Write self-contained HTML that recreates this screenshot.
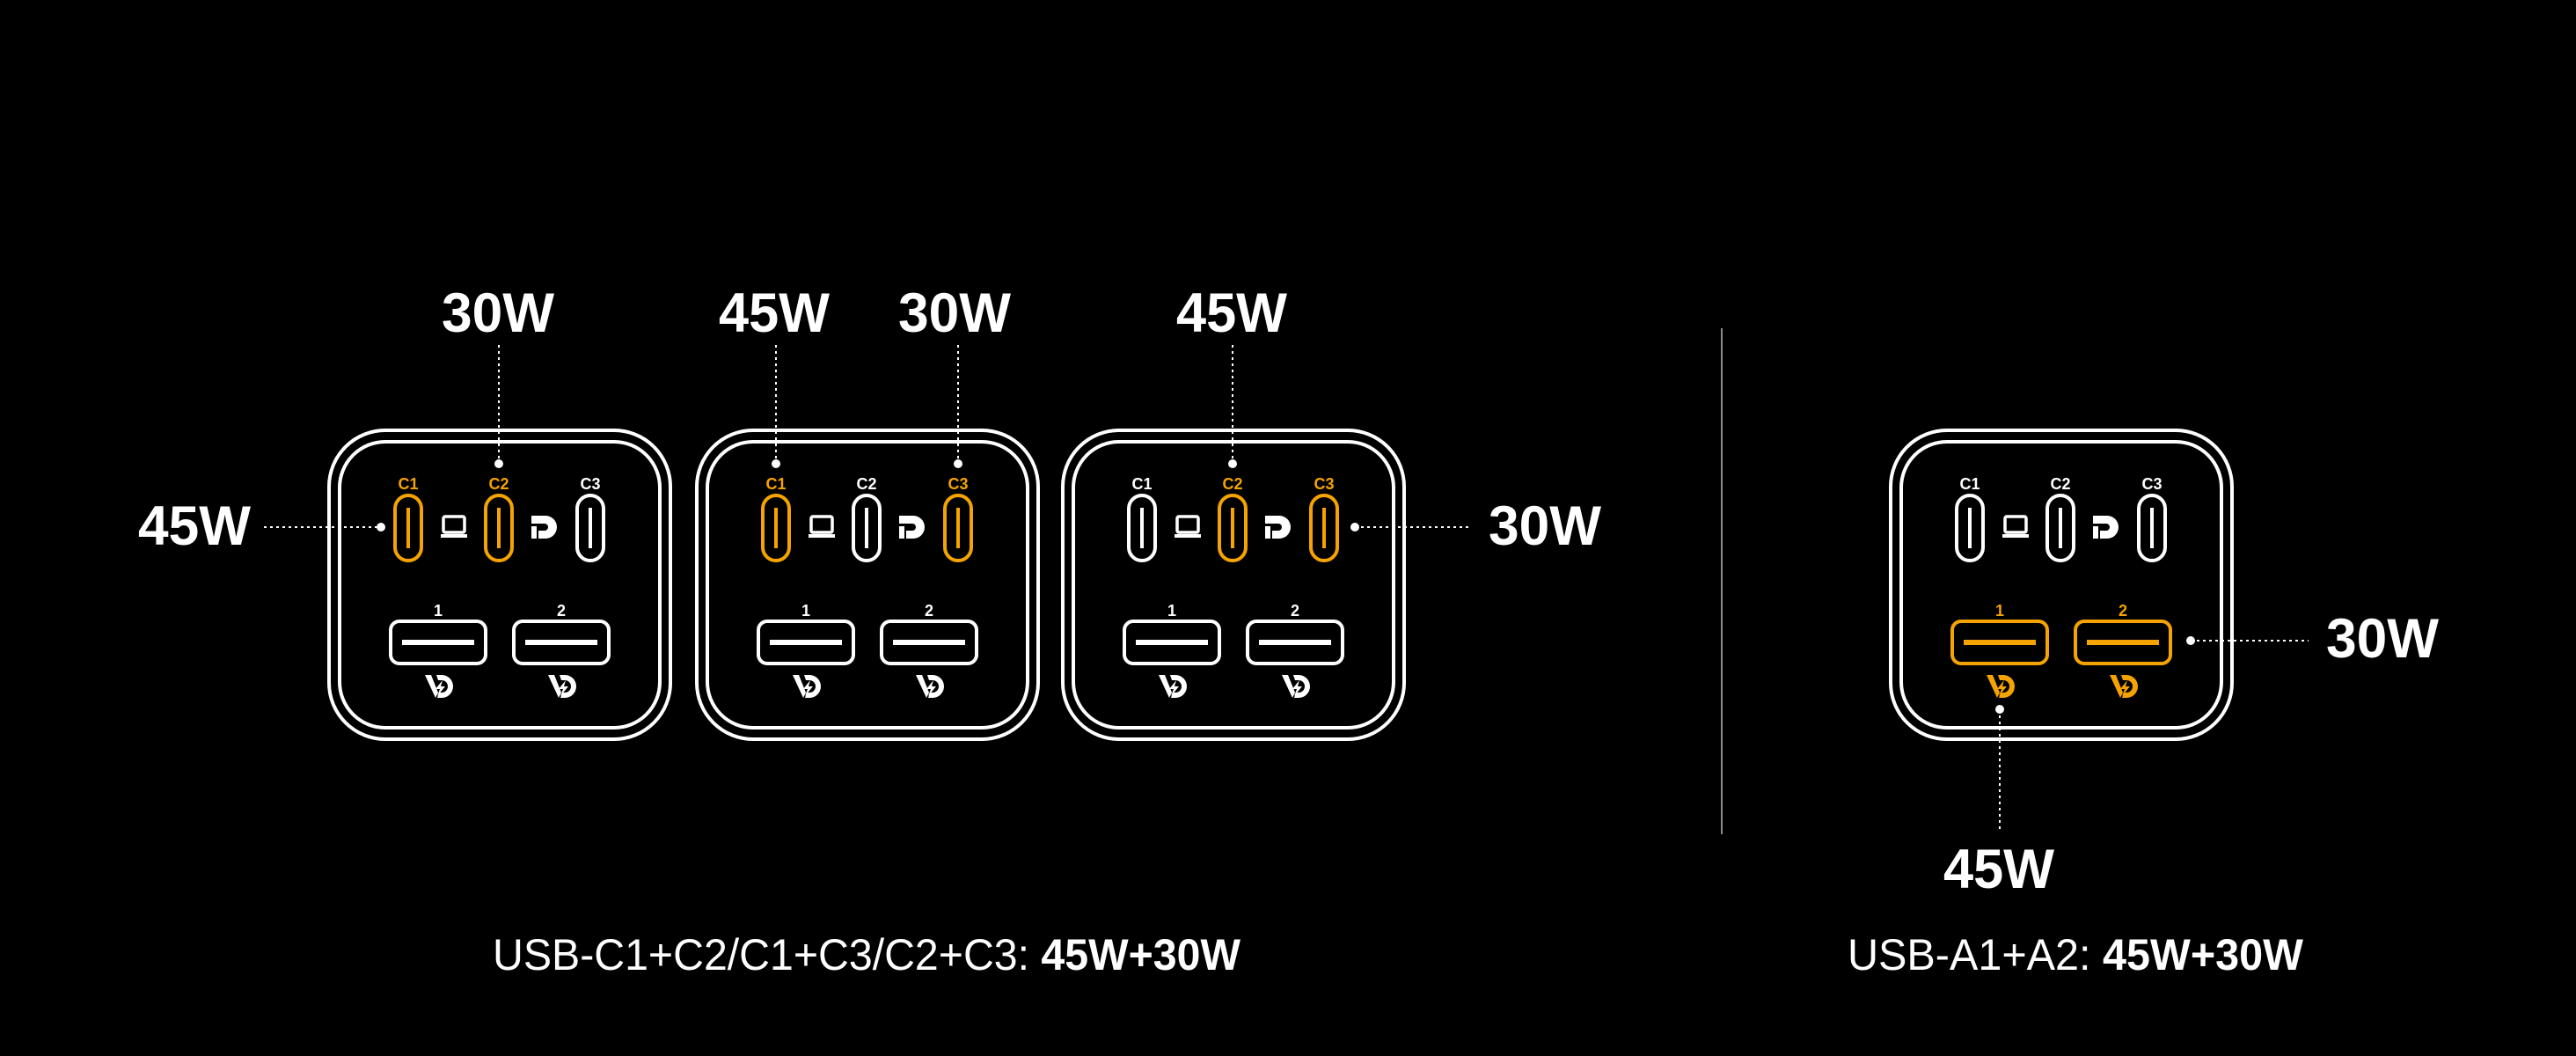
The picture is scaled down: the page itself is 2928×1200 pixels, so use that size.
<!DOCTYPE html>
<html><head><meta charset="utf-8"><style>
html,body{margin:0;padding:0;background:#000;width:2928px;height:1200px;overflow:hidden}
svg{display:block}
text{font-family:"Liberation Sans",sans-serif}
</style></head><body>
<svg width="2928" height="1200" viewBox="0 0 2928 1200" xmlns="http://www.w3.org/2000/svg">
<defs>
<g id="laptop" fill="none" stroke="#fff" stroke-width="3.5">
  <rect x="-12" y="-12" width="24" height="18" rx="2"/>
  <path d="M-15 10 H15" stroke-width="4"/>
</g>
<g id="dp">
  <path d="M-14 -13 H2 A13 13 0 0 1 2 13 H-6 V4 H1 A4 4 0 0 0 1 -4 H-14 Z" fill="#fff"/>
  <rect x="-14" y="-1" width="6" height="14" fill="#fff"/>
</g>
<g id="logo">
  <path d="M-16 -13 H-9 L-1 7 L-4 13 Z" />
  <path d="M-3 -13 H3 A13 13 0 0 1 3 13 H-2 L0 7 H3 A7 7 0 0 0 3 -7 H-1 Z"/>
  <path d="M4 -7 L-4 3 H1 L-2 11 L7 0 H2 Z"/>
</g>
</defs>

<line x1="1957" y1="373" x2="1957" y2="948" stroke="#8a8a8a" stroke-width="2"/>

<!-- Box 1 -->
<g transform="translate(372,487)">
  <rect x="2" y="2" width="388" height="351" rx="64" fill="none" stroke="#fff" stroke-width="4"/>
  <rect x="14" y="15" width="364" height="325" rx="52" fill="none" stroke="#fff" stroke-width="4"/>
  <g font-size="18" font-weight="bold" text-anchor="middle">
    <text x="92" y="69" fill="#F5A300">C1</text>
    <text x="195" y="69" fill="#F5A300">C2</text>
    <text x="299" y="69" fill="#fff">C3</text>
    <text x="126" y="213" fill="#fff">1</text>
    <text x="266" y="213" fill="#fff">2</text>
  </g>
  <rect x="77" y="76" width="30" height="74" rx="15" fill="none" stroke="#F5A300" stroke-width="4"/>
  <rect x="90" y="90" width="4" height="46" fill="#F5A300"/>
  <rect x="180" y="76" width="30" height="74" rx="15" fill="none" stroke="#F5A300" stroke-width="4"/>
  <rect x="193" y="90" width="4" height="46" fill="#F5A300"/>
  <rect x="284" y="76" width="30" height="74" rx="15" fill="none" stroke="#fff" stroke-width="4"/>
  <rect x="297" y="90" width="4" height="46" fill="#fff"/>
  <use href="#laptop" x="144" y="112"/>
  <use href="#dp" x="246" y="112"/>
  <rect x="72" y="219" width="108" height="48" rx="10" fill="none" stroke="#fff" stroke-width="4"/>
  <rect x="85" y="240" width="82" height="6" fill="#fff"/>
  <rect x="212" y="219" width="108" height="48" rx="10" fill="none" stroke="#fff" stroke-width="4"/>
  <rect x="225" y="240" width="82" height="6" fill="#fff"/>
  <g fill="#fff"><use href="#logo" x="127" y="293"/><use href="#logo" x="267" y="293"/></g>
</g>

<!-- Box 2 -->
<g transform="translate(790,487)">
  <rect x="2" y="2" width="388" height="351" rx="64" fill="none" stroke="#fff" stroke-width="4"/>
  <rect x="14" y="15" width="364" height="325" rx="52" fill="none" stroke="#fff" stroke-width="4"/>
  <g font-size="18" font-weight="bold" text-anchor="middle">
    <text x="92" y="69" fill="#F5A300">C1</text>
    <text x="195" y="69" fill="#fff">C2</text>
    <text x="299" y="69" fill="#F5A300">C3</text>
    <text x="126" y="213" fill="#fff">1</text>
    <text x="266" y="213" fill="#fff">2</text>
  </g>
  <rect x="77" y="76" width="30" height="74" rx="15" fill="none" stroke="#F5A300" stroke-width="4"/>
  <rect x="90" y="90" width="4" height="46" fill="#F5A300"/>
  <rect x="180" y="76" width="30" height="74" rx="15" fill="none" stroke="#fff" stroke-width="4"/>
  <rect x="193" y="90" width="4" height="46" fill="#fff"/>
  <rect x="284" y="76" width="30" height="74" rx="15" fill="none" stroke="#F5A300" stroke-width="4"/>
  <rect x="297" y="90" width="4" height="46" fill="#F5A300"/>
  <use href="#laptop" x="144" y="112"/>
  <use href="#dp" x="246" y="112"/>
  <rect x="72" y="219" width="108" height="48" rx="10" fill="none" stroke="#fff" stroke-width="4"/>
  <rect x="85" y="240" width="82" height="6" fill="#fff"/>
  <rect x="212" y="219" width="108" height="48" rx="10" fill="none" stroke="#fff" stroke-width="4"/>
  <rect x="225" y="240" width="82" height="6" fill="#fff"/>
  <g fill="#fff"><use href="#logo" x="127" y="293"/><use href="#logo" x="267" y="293"/></g>
</g>

<!-- Box 3 -->
<g transform="translate(1206,487)">
  <rect x="2" y="2" width="388" height="351" rx="64" fill="none" stroke="#fff" stroke-width="4"/>
  <rect x="14" y="15" width="364" height="325" rx="52" fill="none" stroke="#fff" stroke-width="4"/>
  <g font-size="18" font-weight="bold" text-anchor="middle">
    <text x="92" y="69" fill="#fff">C1</text>
    <text x="195" y="69" fill="#F5A300">C2</text>
    <text x="299" y="69" fill="#F5A300">C3</text>
    <text x="126" y="213" fill="#fff">1</text>
    <text x="266" y="213" fill="#fff">2</text>
  </g>
  <rect x="77" y="76" width="30" height="74" rx="15" fill="none" stroke="#fff" stroke-width="4"/>
  <rect x="90" y="90" width="4" height="46" fill="#fff"/>
  <rect x="180" y="76" width="30" height="74" rx="15" fill="none" stroke="#F5A300" stroke-width="4"/>
  <rect x="193" y="90" width="4" height="46" fill="#F5A300"/>
  <rect x="284" y="76" width="30" height="74" rx="15" fill="none" stroke="#F5A300" stroke-width="4"/>
  <rect x="297" y="90" width="4" height="46" fill="#F5A300"/>
  <use href="#laptop" x="144" y="112"/>
  <use href="#dp" x="246" y="112"/>
  <rect x="72" y="219" width="108" height="48" rx="10" fill="none" stroke="#fff" stroke-width="4"/>
  <rect x="85" y="240" width="82" height="6" fill="#fff"/>
  <rect x="212" y="219" width="108" height="48" rx="10" fill="none" stroke="#fff" stroke-width="4"/>
  <rect x="225" y="240" width="82" height="6" fill="#fff"/>
  <g fill="#fff"><use href="#logo" x="127" y="293"/><use href="#logo" x="267" y="293"/></g>
</g>

<!-- Box 4 -->
<g transform="translate(2147,487)">
  <rect x="2" y="2" width="388" height="351" rx="64" fill="none" stroke="#fff" stroke-width="4"/>
  <rect x="14" y="15" width="364" height="325" rx="52" fill="none" stroke="#fff" stroke-width="4"/>
  <g font-size="18" font-weight="bold" text-anchor="middle">
    <text x="92" y="69" fill="#fff">C1</text>
    <text x="195" y="69" fill="#fff">C2</text>
    <text x="299" y="69" fill="#fff">C3</text>
    <text x="126" y="213" fill="#F5A300">1</text>
    <text x="266" y="213" fill="#F5A300">2</text>
  </g>
  <rect x="77" y="76" width="30" height="74" rx="15" fill="none" stroke="#fff" stroke-width="4"/>
  <rect x="90" y="90" width="4" height="46" fill="#fff"/>
  <rect x="180" y="76" width="30" height="74" rx="15" fill="none" stroke="#fff" stroke-width="4"/>
  <rect x="193" y="90" width="4" height="46" fill="#fff"/>
  <rect x="284" y="76" width="30" height="74" rx="15" fill="none" stroke="#fff" stroke-width="4"/>
  <rect x="297" y="90" width="4" height="46" fill="#fff"/>
  <use href="#laptop" x="144" y="112"/>
  <use href="#dp" x="246" y="112"/>
  <rect x="72" y="219" width="108" height="48" rx="10" fill="none" stroke="#F5A300" stroke-width="4"/>
  <rect x="85" y="240" width="82" height="6" fill="#F5A300"/>
  <rect x="212" y="219" width="108" height="48" rx="10" fill="none" stroke="#F5A300" stroke-width="4"/>
  <rect x="225" y="240" width="82" height="6" fill="#F5A300"/>
  <g fill="#F5A300"><use href="#logo" x="127" y="293"/><use href="#logo" x="267" y="293"/></g>
</g>

<g stroke="#fff" stroke-width="2" stroke-dasharray="3 4" fill="none">
  <line x1="567" y1="392" x2="567" y2="527"/>
  <line x1="300" y1="599" x2="433" y2="599"/>
  <line x1="882" y1="392" x2="882" y2="527"/>
  <line x1="1089" y1="392" x2="1089" y2="527"/>
  <line x1="1401" y1="392" x2="1401" y2="527"/>
  <line x1="1540" y1="599" x2="1672" y2="599"/>
  <line x1="2490" y1="728" x2="2624" y2="728"/>
  <line x1="2273" y1="806" x2="2273" y2="942"/>
</g>
<g fill="#fff">
  <circle cx="567" cy="527" r="5"/>
  <circle cx="433" cy="599" r="5"/>
  <circle cx="882" cy="527" r="5"/>
  <circle cx="1089" cy="527" r="5"/>
  <circle cx="1401" cy="527" r="5"/>
  <circle cx="1540" cy="599" r="5"/>
  <circle cx="2490" cy="728" r="5"/>
  <circle cx="2273" cy="806" r="5"/>
</g>

<g fill="#fff" font-size="63" font-weight="bold" text-anchor="middle">
  <text x="566" y="377" textLength="128" lengthAdjust="spacingAndGlyphs">30W</text>
  <text x="221" y="619" textLength="128" lengthAdjust="spacingAndGlyphs">45W</text>
  <text x="880" y="377" textLength="126" lengthAdjust="spacingAndGlyphs">45W</text>
  <text x="1085" y="377" textLength="128" lengthAdjust="spacingAndGlyphs">30W</text>
  <text x="1400" y="377" textLength="126" lengthAdjust="spacingAndGlyphs">45W</text>
  <text x="1756" y="619" textLength="128" lengthAdjust="spacingAndGlyphs">30W</text>
  <text x="2708" y="747" textLength="128" lengthAdjust="spacingAndGlyphs">30W</text>
  <text x="2272" y="1009" textLength="126" lengthAdjust="spacingAndGlyphs">45W</text>
</g>

<text x="560" y="1102" fill="#fff" font-size="50" textLength="850" lengthAdjust="spacingAndGlyphs"><tspan font-weight="normal">USB-C1+C2/C1+C3/C2+C3: </tspan><tspan font-weight="bold">45W+30W</tspan></text>
<text x="2100" y="1102" fill="#fff" font-size="50" textLength="518" lengthAdjust="spacingAndGlyphs"><tspan font-weight="normal">USB-A1+A2: </tspan><tspan font-weight="bold">45W+30W</tspan></text>
</svg>
</body></html>
